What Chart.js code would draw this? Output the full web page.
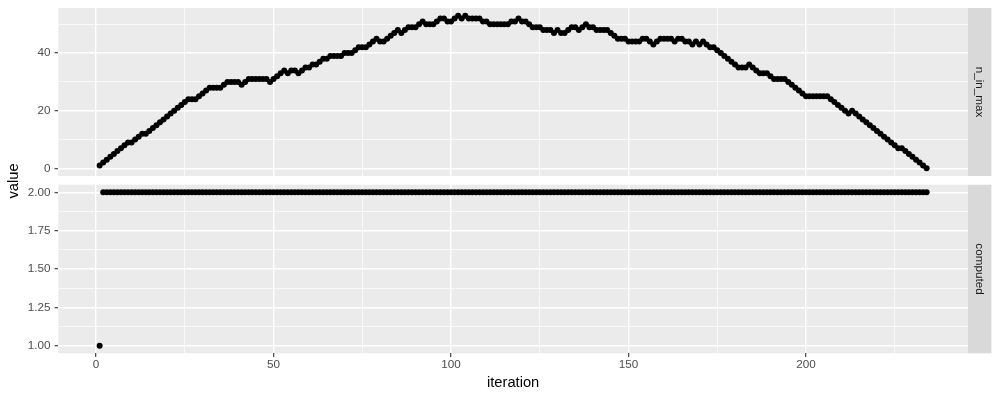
<!DOCTYPE html>
<html>
<head>
<meta charset="utf-8">
<script src="https://cdn.jsdelivr.net/npm/chart.js@4"></script>
<style>
  html, body { margin: 0; padding: 0; background: #fff; }
  #wrap { position: relative; width: 1000px; height: 400px; }
  #wrap canvas { position: absolute; left: 0; top: 0; display: block; }
</style>
</head>
<body>
<div id="wrap">
  <canvas id="topChart" width="1000" height="400"></canvas>
  <canvas id="bottomChart" width="1000" height="400"></canvas>
</div>
<script>
// iteration index (x) for both facets
const iterations = Array.from({ length: 234 }, (_, i) => i + 1);

// facet "n_in_max"
const nInMax = [
  1, 2, 3, 4, 5, 6, 7, 8, 9, 9,
  10, 11, 12, 12, 13, 14, 15, 16, 17, 18,
  19, 20, 21, 22, 23, 24, 24, 24, 25, 26,
  27, 28, 28, 28, 28, 29, 30, 30, 30, 30,
  29, 30, 31, 31, 31, 31, 31, 31, 30, 31,
  32, 33, 34, 33, 34, 34, 33, 34, 35, 35,
  36, 36, 37, 38, 38, 39, 39, 39, 39, 40,
  40, 40, 41, 42, 42, 42, 43, 44, 45, 44,
  44, 45, 46, 47, 48, 47, 48, 49, 49, 49,
  50, 51, 50, 50, 50, 51, 52, 52, 51, 51,
  52, 53, 52, 53, 52, 52, 52, 52, 51, 51,
  50, 50, 50, 50, 50, 50, 51, 51, 52, 51,
  51, 50, 49, 49, 49, 48, 48, 48, 47, 48,
  47, 47, 48, 49, 49, 48, 49, 50, 49, 49,
  48, 48, 48, 48, 47, 46, 45, 45, 45, 44,
  44, 44, 44, 45, 45, 44, 43, 44, 45, 45,
  45, 45, 44, 45, 45, 44, 44, 43, 44, 43,
  44, 43, 42, 42, 41, 40, 39, 38, 37, 36,
  35, 35, 35, 36, 35, 34, 33, 33, 33, 32,
  31, 31, 31, 31, 30, 29, 28, 27, 26, 25,
  25, 25, 25, 25, 25, 25, 24, 23, 22, 21,
  20, 19, 20, 19, 18, 17, 16, 15, 14, 13,
  12, 11, 10, 9, 8, 7, 7, 6, 5, 4,
  3, 2, 1, 0
];

// facet "computed"
const computed = [
  1, 2, 2, 2, 2, 2, 2, 2, 2, 2,
  2, 2, 2, 2, 2, 2, 2, 2, 2, 2,
  2, 2, 2, 2, 2, 2, 2, 2, 2, 2,
  2, 2, 2, 2, 2, 2, 2, 2, 2, 2,
  2, 2, 2, 2, 2, 2, 2, 2, 2, 2,
  2, 2, 2, 2, 2, 2, 2, 2, 2, 2,
  2, 2, 2, 2, 2, 2, 2, 2, 2, 2,
  2, 2, 2, 2, 2, 2, 2, 2, 2, 2,
  2, 2, 2, 2, 2, 2, 2, 2, 2, 2,
  2, 2, 2, 2, 2, 2, 2, 2, 2, 2,
  2, 2, 2, 2, 2, 2, 2, 2, 2, 2,
  2, 2, 2, 2, 2, 2, 2, 2, 2, 2,
  2, 2, 2, 2, 2, 2, 2, 2, 2, 2,
  2, 2, 2, 2, 2, 2, 2, 2, 2, 2,
  2, 2, 2, 2, 2, 2, 2, 2, 2, 2,
  2, 2, 2, 2, 2, 2, 2, 2, 2, 2,
  2, 2, 2, 2, 2, 2, 2, 2, 2, 2,
  2, 2, 2, 2, 2, 2, 2, 2, 2, 2,
  2, 2, 2, 2, 2, 2, 2, 2, 2, 2,
  2, 2, 2, 2, 2, 2, 2, 2, 2, 2,
  2, 2, 2, 2, 2, 2, 2, 2, 2, 2,
  2, 2, 2, 2, 2, 2, 2, 2, 2, 2,
  2, 2, 2, 2, 2, 2, 2, 2, 2, 2,
  2, 2, 2, 2
];

// tick breaks (major get labels, minor only get grid lines)
const xMajor = [0, 50, 100, 150, 200];
const xMinor = [25, 75, 125, 175, 225];
const topMajor = [0, 20, 40];
const topMinor = [10, 30, 50];
const bottomMajor = [1, 1.25, 1.5, 1.75, 2];
const bottomMinor = [1.125, 1.375, 1.625, 1.875];

const FONT = '"Liberation Sans", Arial, sans-serif';
const panelLeft = 58.3;   // width of y axis column
const panelRightPad = 32; // strip + margin

// grey panel + facet strip on the right (+ shared y title)
const facetPanel = {
  id: 'facetPanel',
  beforeDraw(chart, args, opts) {
    const { ctx, chartArea: a } = chart;
    ctx.save();
    ctx.fillStyle = '#EBEBEB';
    ctx.fillRect(a.left, a.top, a.right - a.left, a.bottom - a.top);
    ctx.fillStyle = '#D9D9D9';
    ctx.fillRect(a.right, a.top, 23.4, a.bottom - a.top);
    ctx.translate(a.right + 11.7, (a.top + a.bottom) / 2);
    ctx.rotate(Math.PI / 2);
    ctx.fillStyle = '#1A1A1A';
    ctx.font = '11.7px ' + FONT;
    ctx.textAlign = 'center';
    ctx.textBaseline = 'middle';
    ctx.fillText(opts.label, 0, 0);
    ctx.restore();

    if (opts.yTitle) {
      ctx.save();
      ctx.translate(14, 181);
      ctx.rotate(-Math.PI / 2);
      ctx.fillStyle = '#000000';
      ctx.font = '14.7px ' + FONT;
      ctx.textAlign = 'center';
      ctx.textBaseline = 'middle';
      ctx.fillText(opts.yTitle, 0, 0);
      ctx.restore();
    }
  }
};

function setTicks(major, minor) {
  return (ax) => {
    ax.ticks = major.concat(minor).sort((a, b) => a - b).map(v => ({ value: v }));
  };
}

function gridFor(major, withTicks) {
  return {
    color: '#FFFFFF',
    lineWidth: (c) => major.includes(c.tick && c.tick.value) ? 1.4 : 0.7,
    drawTicks: withTicks,
    tickLength: 3.7,
    tickWidth: 1.1,
    tickColor: (c) => major.includes(c.tick && c.tick.value) ? '#333333' : 'rgba(0,0,0,0)'
  };
}

function xScale(showLabels) {
  return {
    type: 'linear',
    min: -10.65,
    max: 245.65,
    afterBuildTicks: setTicks(xMajor, xMinor),
    afterFit: (ax) => {
      ax.height = showLabels ? 46.7 : 0;
      ax.paddingLeft = 0; ax.paddingRight = 0;
    },
    border: { display: false },
    grid: gridFor(xMajor, showLabels),
    ticks: {
      display: showLabels,
      autoSkip: false,
      maxRotation: 0,
      padding: 1,
      color: '#4D4D4D',
      font: { family: FONT, size: 11.7 },
      callback: (v) => xMajor.includes(v) ? String(v) : ''
    },
    title: {
      display: showLabels,
      text: 'iteration',
      color: '#000000',
      font: { family: FONT, size: 14.7 },
      padding: { top: 0, bottom: 8 }
    }
  };
}

function yScale(min, max, major, minor, fmt) {
  return {
    type: 'linear',
    min: min,
    max: max,
    afterBuildTicks: setTicks(major, minor),
    afterFit: (ax) => {
      ax.width = panelLeft;
      ax.paddingTop = 0; ax.paddingBottom = 0;
    },
    border: { display: false },
    grid: gridFor(major, true),
    ticks: {
      autoSkip: false,
      padding: 4,
      color: '#4D4D4D',
      font: { family: FONT, size: 11.7 },
      callback: (v) => major.includes(v) ? fmt(v) : ''
    }
  };
}

function pointsOf(values) {
  return values.map((v, i) => ({ x: iterations[i], y: v }));
}

function makeChart(id, values, label, yTitle, yOpts, showX, padTop, padBottom) {
  return new Chart(document.getElementById(id), {
    type: 'scatter',
    data: {
      datasets: [{
        data: pointsOf(values),
        pointRadius: 3,
        pointBackgroundColor: '#000000',
        pointBorderWidth: 0,
        showLine: false
      }]
    },
    options: {
      responsive: false,
      animation: false,
      events: [],
      layout: { padding: { left: 0, right: panelRightPad, top: padTop, bottom: padBottom } },
      scales: { x: xScale(showX), y: yOpts },
      plugins: {
        legend: { display: false },
        tooltip: { enabled: false },
        facetPanel: { label: label, yTitle: yTitle }
      }
    },
    plugins: [facetPanel]
  });
}

makeChart('topChart', nInMax, 'n_in_max', null,
  yScale(-2.65, 55.65, topMajor, topMinor, v => String(v)), false, 8, 224);
makeChart('bottomChart', computed, 'computed', 'value',
  yScale(0.95, 2.05, bottomMajor, bottomMinor, v => v.toFixed(2)), true, 184.7, 0);
</script>
</body>
</html>
